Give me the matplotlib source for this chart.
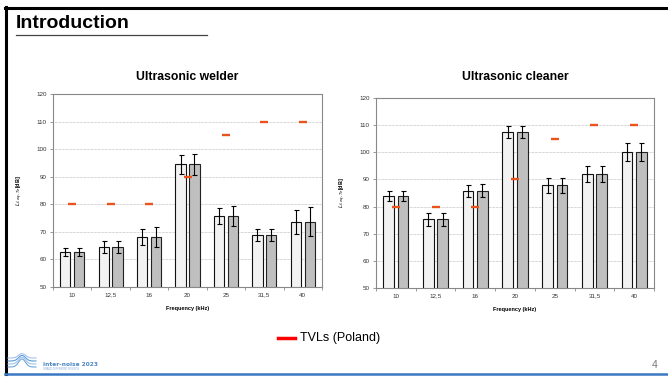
import numpy as np
import matplotlib
matplotlib.use("Agg")
import matplotlib.pyplot as plt
from matplotlib.lines import Line2D

plt.rcParams["font.family"] = ["Liberation Sans", "DejaVu Sans"]

categories = ["10", "12,5", "16", "20", "25", "31,5", "40"]
tvl = [80, 80, 80, 90, 105, 110, 110]

welder_a = [62.8, 64.5, 68.2, 94.5, 75.8, 68.9, 73.7]
welder_b = [62.8, 64.5, 68.2, 94.5, 75.8, 68.9, 73.7]
welder_err_a = [1.4, 2.1, 2.9, 3.5, 3.0, 2.2, 4.3]
welder_err_b = [1.4, 2.3, 3.6, 3.9, 3.5, 2.2, 5.2]

cleaner_a = [83.9, 75.3, 85.9, 107.4, 87.8, 92.0, 100.1]
cleaner_b = [83.9, 75.3, 85.9, 107.4, 87.8, 92.0, 100.1]
cleaner_err_a = [1.9, 2.3, 2.2, 2.3, 2.8, 3.0, 3.4]
cleaner_err_b = [2.0, 2.3, 2.3, 2.3, 2.8, 3.1, 3.4]

W, H = 668, 379
fig = plt.figure(figsize=(W / 100, H / 100), dpi=100)
fig.patch.set_facecolor("white")


def px(x0, y0, x1, y1):
    return [x0 / W, 1 - y1 / H, (x1 - x0) / W, (y1 - y0) / H]


def draw(ax, a, b, ea, eb, title, pad):
    n = len(categories)
    x = np.arange(n)
    bw = 0.27
    off = 0.18
    ax.bar(x - off, a, bw, bottom=0, color="#f2f2f2", edgecolor="#111111", linewidth=0.8, zorder=2)
    ax.bar(x + off, b, bw, bottom=0, color="#bfbfbf", edgecolor="#222222", linewidth=0.8, zorder=2)
    ax.errorbar(x - off, a, yerr=ea, fmt="none", ecolor="black", elinewidth=0.8, capsize=1.8, capthick=0.8, zorder=3)
    ax.errorbar(x + off, b, yerr=eb, fmt="none", ecolor="black", elinewidth=0.8, capsize=1.8, capthick=0.8, zorder=3)
    ax.plot(x, tvl, linestyle="none", marker="_", markersize=6, markeredgewidth=1.7, color="#e8541c", zorder=4)
    ax.set_ylim(50, 120)
    ax.set_xlim(-0.5, n - 0.5)
    ax.set_yticks(np.arange(50, 121, 10))
    ax.set_xticks(x)
    ax.set_xticklabels(categories)
    ax.set_xticks(np.arange(-0.5, n, 1), minor=True)
    ax.tick_params(axis="x", which="major", length=0, labelsize=4.5, pad=4, labelcolor="#333333")
    ax.tick_params(axis="x", which="minor", length=2.5, color="#888888", width=0.6)
    ax.tick_params(axis="y", length=2.5, color="#888888", width=0.6, labelsize=4.5, pad=2, labelcolor="#333333")
    ax.yaxis.grid(True, linestyle=(0, (1, 1)), color="#aaaaaa", linewidth=0.5, zorder=0)
    ax.set_axisbelow(True)
    for s in ax.spines.values():
        s.set_color("#888888")
        s.set_linewidth(0.8)
    ax.set_xlabel("Frequency (kHz)", fontsize=4, fontweight="bold", labelpad=6)
    ax.set_ylabel("$L_{f,eq,Te}$[dB]", fontsize=4, fontweight="bold", labelpad=8)
    ax.set_title(title, fontsize=8.8, fontweight="bold", pad=pad)


ax1 = fig.add_axes(px(53, 94, 322, 287))
draw(ax1, welder_a, welder_b, welder_err_a, welder_err_b, "Ultrasonic welder", 10)
ax2 = fig.add_axes(px(376, 98, 654, 288))
draw(ax2, cleaner_a, cleaner_b, cleaner_err_a, cleaner_err_b, "Ultrasonic cleaner", 13)

# slide decoration
fig.add_artist(Line2D([5 / W, 1], [1 - 7.5 / H, 1 - 7.5 / H], color="black", linewidth=2.2))
fig.add_artist(Line2D([5.5 / W, 5.5 / W], [1 - 7 / H, 1 - 374 / H], color="black", linewidth=2.2))
fig.add_artist(Line2D([5 / W, 1], [1 - 374 / H, 1 - 374 / H], color="#3a78c2", linewidth=1.8))
fig.add_artist(Line2D([16 / W, 207 / W], [1 - 34.5 / H, 1 - 34.5 / H], color="#444444", linewidth=0.9))
fig.text(16 / W, 1 - 23 / H, "Introduction", fontsize=14, fontweight="bold", va="center", ha="left")

# legend
fig.add_artist(Line2D([278 / W, 295 / W], [1 - 338 / H, 1 - 338 / H], color="#ff0000", linewidth=2.5))
fig.text(300 / W, 1 - 338 / H, "TVLs (Poland)", fontsize=9, va="center", ha="left")

# page number
fig.text(658 / W, 1 - 365 / H, "4", fontsize=7.5, color="#777777", va="center", ha="right")

# logo
t = np.linspace(0, 1, 50)
for i, c in enumerate(["#6fa8dc", "#9fc5e8", "#5b9bd5", "#a4c2f4"]):
    xs = (8 + 28 * t) / W
    ys = 1 - (367 - i * 3 - 8 * np.exp(-((t - 0.5) ** 2) / 0.03) * (1 - i * 0.15)) / H
    fig.add_artist(Line2D(xs, ys, color=c, linewidth=0.8))
fig.text(43 / W, 1 - 364 / H, "inter-noise 2023", fontsize=4.2, fontweight="bold", color="#4a86c5",
         va="center", ha="left", family="DejaVu Sans")
fig.text(43 / W, 1 - 369 / H, "GRAND DIFFERENT SOUNDS", fontsize=1.8, color="#7fa7d8",
         va="center", ha="left")

fig.savefig("out.png", dpi=100)
